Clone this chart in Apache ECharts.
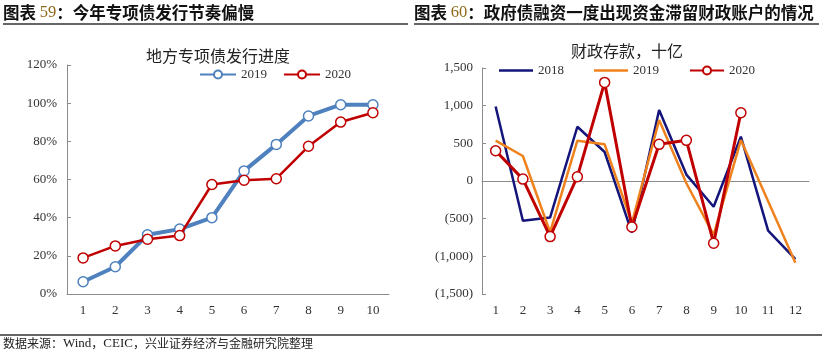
<!DOCTYPE html>
<html><head><meta charset="utf-8">
<script src="https://cdn.jsdelivr.net/npm/echarts@6/dist/echarts.min.js"></script>
<style>html,body{margin:0;padding:0;background:#fff}#c{width:822px;height:355px}</style>
</head><body><div id="c"></div>
<script>
// ---- data ----
const leftCategories = ['1','2','3','4','5','6','7','8','9','10'];
const leftTicks = [0,20,40,60,80,100,120];
const progress2019 = [6.4, 14.3, 31.0, 34.0, 40.0, 64.5, 78.4, 93.3, 99.2, 99.2];
const progress2020 = [18.9, 25.2, 28.7, 30.6, 57.4, 59.6, 60.4, 77.4, 90.1, 95.0];

const rightCategories = ['1','2','3','4','5','6','7','8','9','10','11','12'];
const rightTicks = [-1500,-1000,-500,0,500,1000,1500];
const deposit2018 = [990, -527, -483, 720, 385, -685, 942, 85, -341, 588, -660, -1038];
const deposit2019 = [535, 332, -680, 535, 487, -557, 809, -30, -716, 543, -270, -1085];
const deposit2020 = [402, 25, -738, 57, 1309, -610, 487, 540, -826, 906];

const serif = '"Liberation Serif","Times New Roman",serif';
const cjk = '"Noto Sans CJK SC","Noto Sans",sans-serif';
const axisGray = '#8c8c8c';
const labelColor = '#333';

function fmtNum(v){
  const a = Math.abs(v).toString().replace(/\B(?=(\d{3})+(?!\d))/g, ',');
  return v < 0 ? '(' + a + ')' : a;
}
const lineIcon = 'path://M0,0H34V2.5H0Z';

const chart = echarts.init(document.getElementById('c'), null, {renderer:'canvas'});
chart.setOption({
  animation:false,
  backgroundColor:'#fff',
  title:[
    {text:'地方专项债发行进度', left:213, top:43, textAlign:'center',
     textStyle:{fontFamily:cjk, fontSize:16, fontWeight:'normal', color:'#222'}},
    {text:'财政存款，十亿', left:622, top:38, textAlign:'center',
     textStyle:{fontFamily:cjk, fontSize:16, fontWeight:'normal', color:'#222'}}
  ],
  legend:[
    {left:194, top:63, itemWidth:36, itemHeight:10, itemGap:16,
     data:['L2019','L2020'], formatter:n=>n.slice(1),
     textStyle:{fontFamily:serif, fontSize:13, color:labelColor}},
    {left:494, top:59, itemWidth:34, itemHeight:10, itemGap:30,
     data:[{name:'R2018', icon:lineIcon},{name:'R2019', icon:lineIcon},'R2020'],
     formatter:n=>n.slice(1),
     textStyle:{fontFamily:serif, fontSize:13, color:labelColor}}
  ],
  grid:[
    {left:67, right:433, top:65, bottom:61},
    {left:482, right:13, top:68, bottom:61}
  ],
  xAxis:[
    {type:'category', gridIndex:0, data:leftCategories, boundaryGap:true,
     axisLine:{lineStyle:{color:axisGray}},
     axisTick:{inside:true, length:6, lineStyle:{color:axisGray}},
     axisLabel:{margin:10, fontFamily:serif, fontSize:13, color:labelColor}},
    {type:'category', gridIndex:1, data:rightCategories, boundaryGap:true, position:'bottom',
     axisLine:{onZero:true, lineStyle:{color:axisGray}},
     axisTick:{inside:true, length:6, lineStyle:{color:axisGray}},
     axisLabel:{show:false}},
    {type:'category', gridIndex:1, data:rightCategories, boundaryGap:true, position:'bottom',
     axisLine:{show:false, onZero:false}, axisTick:{show:false},
     axisLabel:{margin:10, fontFamily:serif, fontSize:13, color:labelColor}}
  ],
  yAxis:[
    {type:'value', gridIndex:0, min:leftTicks[0], max:leftTicks[leftTicks.length-1], interval:20,
     axisLine:{show:true, lineStyle:{color:axisGray}},
     axisTick:{show:true, inside:true, length:4, lineStyle:{color:axisGray}},
     splitLine:{show:false},
     axisLabel:{margin:10, fontFamily:serif, fontSize:13, color:labelColor, formatter:'{value}%'}},
    {type:'value', gridIndex:1, min:rightTicks[0], max:rightTicks[rightTicks.length-1], interval:500,
     axisLine:{show:true, lineStyle:{color:axisGray}},
     axisTick:{show:true, inside:true, length:4, lineStyle:{color:axisGray}},
     splitLine:{show:false},
     axisLabel:{margin:9, fontFamily:serif, fontSize:13, color:labelColor, formatter:fmtNum}}
  ],
  series:[
    {name:'L2019', type:'line', xAxisIndex:0, yAxisIndex:0, data:progress2019,
     symbol:'circle', symbolSize:10, color:'#4E81BD',
     lineStyle:{width:4, color:'#4E81BD'},
     itemStyle:{color:'#fff', borderColor:'#4E81BD', borderWidth:1.5}, z:2},
    {name:'L2020', type:'line', xAxisIndex:0, yAxisIndex:0, data:progress2020,
     symbol:'circle', symbolSize:10, color:'#C00000',
     lineStyle:{width:2.5, color:'#C00000'},
     itemStyle:{color:'#fff', borderColor:'#C00000', borderWidth:1.5}, z:3},
    {name:'R2018', type:'line', xAxisIndex:2, yAxisIndex:1, data:deposit2018,
     symbol:'none', color:'#14147A', lineStyle:{width:2.5, color:'#14147A'}, z:2},
    {name:'R2019', type:'line', xAxisIndex:2, yAxisIndex:1, data:deposit2019,
     symbol:'none', color:'#F0821E', lineStyle:{width:2.5, color:'#F0821E'}, z:3},
    {name:'R2020', type:'line', xAxisIndex:2, yAxisIndex:1, data:deposit2020,
     symbol:'circle', symbolSize:10, color:'#C00000',
     lineStyle:{width:3, color:'#C00000'},
     itemStyle:{color:'#fff', borderColor:'#C00000', borderWidth:1.5}, z:4}
  ],
  graphic:[
    {type:'text', left:3, top:4, style:{
      text:'{a|图表 }{b|59}{a|：今年专项债发行节奏偏慢}',
      rich:{a:{fontFamily:cjk, fontSize:16.5, fontWeight:'bold', fill:'#111'},
            b:{fontFamily:serif, fontSize:16.5, fontWeight:'normal', fill:'#8F6A1A'}}}},
    {type:'text', left:414, top:4, style:{
      text:'{a|图表 }{b|60}{a|：政府债融资一度出现资金滞留财政账户的情况}',
      rich:{a:{fontFamily:cjk, fontSize:16.5, fontWeight:'bold', fill:'#111'},
            b:{fontFamily:serif, fontSize:16.5, fontWeight:'normal', fill:'#8F6A1A'}}}},
    {type:'line', shape:{x1:3, y1:24, x2:408, y2:24}, style:{stroke:'#333', lineWidth:1.5}},
    {type:'line', shape:{x1:414, y1:24, x2:819, y2:24}, style:{stroke:'#333', lineWidth:1.5}},
    {type:'line', shape:{x1:0, y1:335, x2:822, y2:335}, style:{stroke:'#333', lineWidth:1.5}},
    {type:'text', left:3, top:337, style:{
      text:'{c|数据来源：}{s|Wind}{c|，}{s|CEIC}{c|，兴业证券经济与金融研究院整理}',
      rich:{c:{fontFamily:cjk, fontSize:12, fill:'#222'},
            s:{fontFamily:serif, fontSize:13, fill:'#222'}}}}
  ]
});
</script></body></html>
